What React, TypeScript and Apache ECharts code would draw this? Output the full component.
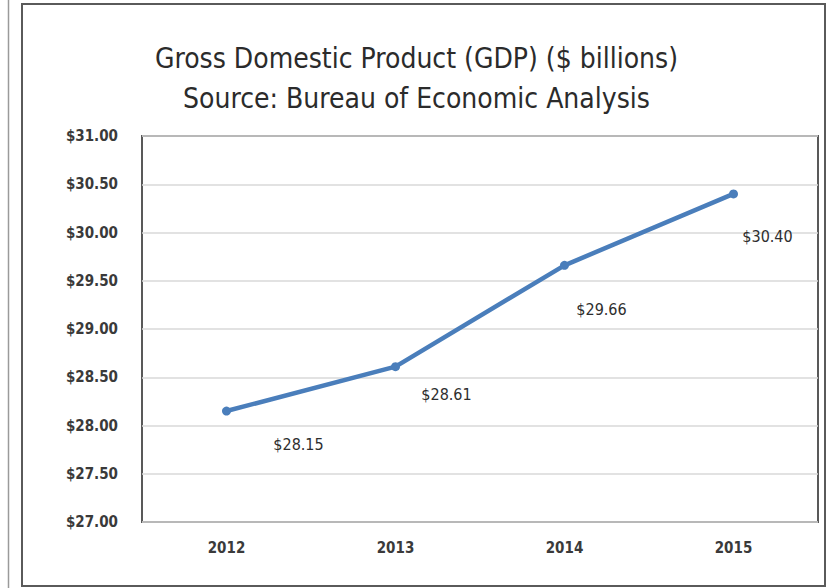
import React, { useEffect, useRef } from "react";
import * as echarts from "echarts";

const categories = ["2012", "2013", "2014", "2015"];
const gdpValues = [28.15, 28.61, 29.66, 30.4];
const labelOffsets: [number, number][] = [
  [72, 33],
  [51, 28],
  [37, 44],
  [34, 43],
];
const titleLines = [
  "Gross Domestic Product (GDP) ($ billions)",
  "Source: Bureau of Economic Analysis",
];

const FONT = "'Liberation Sans Narrow', 'DejaVu Sans Condensed', 'Roboto Condensed', Arial, sans-serif";

export default function App() {
  const ref = useRef<HTMLDivElement>(null);
  useEffect(() => {
    if (!ref.current) return;
    const chart = echarts.init(ref.current, undefined, { renderer: "svg" });
    chart.setOption({
      animation: false,
      backgroundColor: "#ffffff",
      title: [
        {
          text: titleLines[0],
          left: "center",
          top: 39,
          textStyle: { fontFamily: FONT, fontSize: 28, fontWeight: "normal", color: "#2b2b2b" },
        },
        {
          text: titleLines[1],
          left: "center",
          top: 79,
          textStyle: { fontFamily: FONT, fontSize: 28, fontWeight: "normal", color: "#2b2b2b" },
        },
      ],
      graphic: [
        {
          type: "line",
          shape: { x1: 8.5, y1: 0, x2: 8.5, y2: 588 },
          style: { stroke: "#9a9a9a", lineWidth: 1.5 },
        },
        {
          type: "rect",
          shape: { x: 22, y: 4, width: 803, height: 582 },
          style: { fill: "none", stroke: "#5a5a5a", lineWidth: 2 },
        },
      ],
      grid: {
        left: 142,
        top: 136,
        right: 15,
        bottom: 66,
        show: true,
        borderColor: "#595959",
        borderWidth: 2,
        backgroundColor: "#ffffff",
      },
      xAxis: {
        type: "category",
        data: categories,
        boundaryGap: true,
        axisLine: { show: false },
        axisTick: { show: false },
        axisLabel: {
          margin: 18,
          fontFamily: FONT,
          fontSize: 15,
          fontWeight: "bold",
          color: "#3a3a3a",
        },
      },
      yAxis: {
        type: "value",
        min: 27,
        max: 31,
        interval: 0.5,
        axisLine: { show: false },
        axisTick: { show: false },
        splitLine: { lineStyle: { color: "#d9d9d9", width: 1.5 } },
        axisLabel: {
          margin: 24,
          fontFamily: FONT,
          fontSize: 15,
          fontWeight: "bold",
          color: "#3a3a3a",
          formatter: (v: number) => "$" + v.toFixed(2),
        },
      },
      series: [
        {
          type: "line",
          data: gdpValues.map((v, i) => ({
            value: v,
            label: {
              show: true,
              position: "inside",
              offset: labelOffsets[i],
              formatter: "$" + v.toFixed(2),
            },
          })),
          symbol: "circle",
          symbolSize: 9,
          lineStyle: { color: "#4a7ebb", width: 4.5 },
          itemStyle: { color: "#4a7ebb" },
          label: {
            show: true,
            fontFamily: FONT,
            fontSize: 16,
            color: "#2e2e2e",
            align: "center",
            verticalAlign: "middle",
          },
        },
      ],
    });
    return () => chart.dispose();
  }, []);
  return <div ref={ref} style={{ width: 833, height: 588, position: "absolute", left: 0, top: 0 }} />;
}
